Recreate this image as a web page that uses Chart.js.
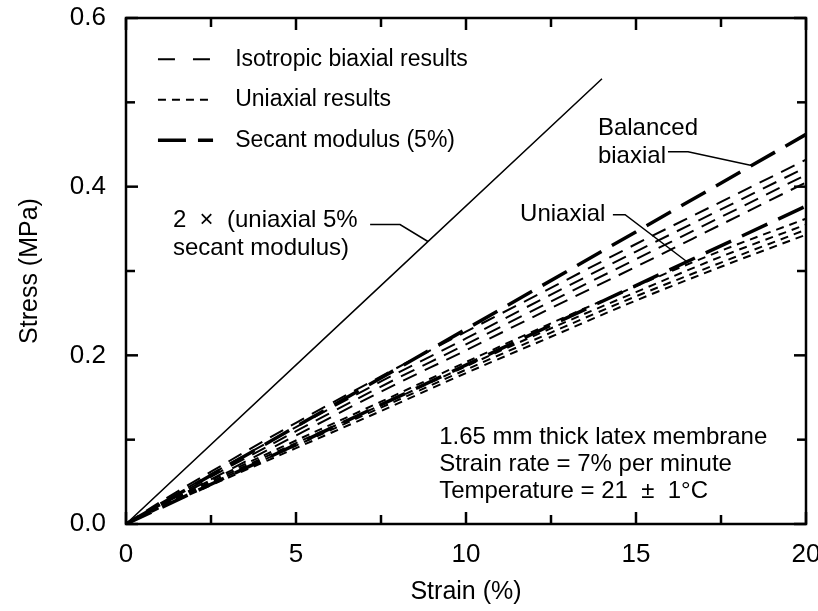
<!DOCTYPE html>
<html><head><meta charset="utf-8">
<script src="https://cdn.jsdelivr.net/npm/chart.js@4.4.1/dist/chart.umd.min.js"></script>
<style>html,body{margin:0;padding:0;background:#fff}#wrap{width:818px;height:611px}</style>
</head><body><div id="wrap"><canvas id="c" width="818" height="611"></canvas></div>
<script>
// ---- data ----
const strain = [0, 1, 2.5, 5, 7.5, 10, 12.5, 15, 17.5, 20];
const biaxial1 = [0, 0.026, 0.062, 0.120, 0.175, 0.228, 0.280, 0.332, 0.382, 0.432];
const biaxial2 = [0, 0.024, 0.059, 0.115, 0.169, 0.220, 0.272, 0.323, 0.373, 0.423];
const biaxial3 = [0, 0.023, 0.056, 0.110, 0.163, 0.213, 0.264, 0.314, 0.364, 0.414];
const biaxial4 = [0, 0.022, 0.053, 0.105, 0.157, 0.206, 0.256, 0.305, 0.355, 0.405];
const uniaxial1 = [0, 0.022, 0.052, 0.099, 0.145, 0.192, 0.238, 0.282, 0.324, 0.362];
const uniaxial2 = [0, 0.021, 0.050, 0.096, 0.141, 0.187, 0.232, 0.275, 0.317, 0.355];
const uniaxial3 = [0, 0.020, 0.048, 0.093, 0.138, 0.183, 0.227, 0.270, 0.310, 0.349];
const uniaxial4 = [0, 0.019, 0.046, 0.090, 0.134, 0.179, 0.222, 0.265, 0.305, 0.343];
const secantStrain = [0, 20];
const secantBiaxial = [0, 0.462];
const secantUniaxial = [0, 0.377];
const doubleStrain = [0, 14];
const doubleUniaxial = [0, 0.528];
const xMajorTicks = [0, 5, 10, 15, 20];
const xMinorTicks = [2.5, 7.5, 12.5, 17.5];
const yMajorTicks = [0, 0.2, 0.4, 0.6];
const yMinorTicks = [0.1, 0.3, 0.5];
const legendLabels = ['Isotropic biaxial results', 'Uniaxial results', 'Secant modulus (5%)'];
const infoLines = ['1.65 mm thick latex membrane', 'Strain rate = 7% per minute', 'Temperature = 21  \u00B1  1\u00B0C'];

const FONT = '"Liberation Sans", Arial, Helvetica, sans-serif';
const pts = (xs, ys) => xs.map((x, i) => ({x: x, y: ys[i]}));
const DASH_BI = [15, 9], DASH_UNI = [8, 6], DASH_SEC = [28, 12];

function ds(data, dash, width) {
  return {data: data, borderColor: '#000', borderWidth: width, borderDash: dash,
    pointRadius: 0, fill: false, tension: 0.3, cubicInterpolationMode: 'monotone'};
}
const datasets = [
  ds(pts(strain, biaxial1), DASH_BI, 2), ds(pts(strain, biaxial2), DASH_BI, 2),
  ds(pts(strain, biaxial3), DASH_BI, 2), ds(pts(strain, biaxial4), DASH_BI, 2),
  ds(pts(strain, uniaxial1), DASH_UNI, 2), ds(pts(strain, uniaxial2), DASH_UNI, 2),
  ds(pts(strain, uniaxial3), DASH_UNI, 2), ds(pts(strain, uniaxial4), DASH_UNI, 2),
  ds(pts(secantStrain, secantBiaxial), DASH_SEC, 3.5),
  ds(pts(secantStrain, secantUniaxial), DASH_SEC, 3.5),
  ds(pts(doubleStrain, doubleUniaxial), [], 1.5)
];

const deco = {
  id: 'deco',
  afterDraw(chart) {
    const ctx = chart.ctx, a = chart.chartArea;
    const xs = chart.scales.x, ys = chart.scales.y;
    const X = v => xs.getPixelForValue(v), Y = v => ys.getPixelForValue(v);
    ctx.save();
    ctx.strokeStyle = '#000'; ctx.fillStyle = '#000';
    ctx.lineWidth = 2.5; ctx.setLineDash([]);
    ctx.strokeRect(a.left, a.top, a.right - a.left, a.bottom - a.top);
    const tick = (x1, y1, x2, y2) => { ctx.beginPath(); ctx.moveTo(x1, y1); ctx.lineTo(x2, y2); ctx.stroke(); };
    xMajorTicks.forEach(v => { tick(X(v), a.bottom, X(v), a.bottom - 12); tick(X(v), a.top, X(v), a.top + 12); });
    xMinorTicks.forEach(v => { tick(X(v), a.bottom, X(v), a.bottom - 9); tick(X(v), a.top, X(v), a.top + 9); });
    yMajorTicks.forEach(v => { tick(a.left, Y(v), a.left + 12, Y(v)); tick(a.right, Y(v), a.right - 12, Y(v)); });
    yMinorTicks.forEach(v => { tick(a.left, Y(v), a.left + 9, Y(v)); tick(a.right, Y(v), a.right - 9, Y(v)); });
    // legend
    ctx.font = '23px ' + FONT; ctx.textBaseline = 'middle'; ctx.textAlign = 'left';
    const legY = [0.551, 0.503, 0.455];
    const legDash = [[17, 18], DASH_UNI, DASH_SEC];
    const legW = [2, 2, 3.5];
    legendLabels.forEach((t, i) => {
      ctx.lineWidth = legW[i]; ctx.setLineDash(legDash[i]);
      tick(X(0.94), Y(legY[i]), X(2.56), Y(legY[i]));
      ctx.setLineDash([]);
      ctx.fillText(t, X(3.21), Y(legY[i]));
    });
    // annotations
    ctx.font = '24px ' + FONT;
    ctx.fillText('Balanced', X(13.88), Y(0.469));
    ctx.fillText('biaxial', X(13.88), Y(0.436));
    ctx.fillText('Uniaxial', X(11.59), Y(0.367));
    ctx.fillText('2  \u00D7  (uniaxial 5%', X(1.38), Y(0.360));
    ctx.fillText('secant modulus)', X(1.38), Y(0.327));
    infoLines.forEach((t, i) => ctx.fillText(t, X(9.21), Y(0.1025 - i * 0.032)));
    // leader lines
    ctx.lineWidth = 1.5;
    const poly = p => { ctx.beginPath(); ctx.moveTo(X(p[0][0]), Y(p[0][1])); p.slice(1).forEach(q => ctx.lineTo(X(q[0]), Y(q[1]))); ctx.stroke(); };
    poly([[15.94, 0.4415], [16.53, 0.4415], [18.4, 0.425]]);
    poly([[14.32, 0.3668], [14.68, 0.3668], [16.5, 0.311]]);
    poly([[7.18, 0.355], [8.06, 0.355], [8.88, 0.335]]);
    ctx.restore();
  }
};

new Chart(document.getElementById('c'), {
  type: 'line',
  data: {datasets: datasets},
  plugins: [deco],
  options: {
    responsive: false, animation: false, devicePixelRatio: 1,
    layout: {padding: {left: 0, right: 12, top: 18, bottom: 0}},
    plugins: {legend: {display: false}, tooltip: {enabled: false}},
    scales: {
      x: {type: 'linear', min: 0, max: 20,
        afterFit: s => { s.height = 87; s.paddingLeft = 0; s.paddingRight = 0; },
        afterBuildTicks: s => { s.ticks = xMajorTicks.map(v => ({value: v})); },
        grid: {display: false, drawTicks: false}, border: {display: false},
        ticks: {padding: 15, color: '#000', font: {family: FONT, size: 26}, maxRotation: 0},
        title: {display: true, text: 'Strain (%)', color: '#000', font: {family: FONT, size: 25}, padding: {bottom: 4}}
      },
      y: {type: 'linear', min: 0, max: 0.6,
        afterFit: s => { s.width = 126; s.paddingTop = 0; s.paddingBottom = 0; },
        afterBuildTicks: s => { s.ticks = yMajorTicks.map(v => ({value: v})); },
        grid: {display: false, drawTicks: false}, border: {display: false},
        ticks: {padding: 20, color: '#000', font: {family: FONT, size: 26}, callback: v => v.toFixed(1)},
        title: {display: true, text: 'Stress (MPa)', color: '#000', font: {family: FONT, size: 25}, padding: {top: 15}}
      }
    }
  }
});
</script></body></html>
